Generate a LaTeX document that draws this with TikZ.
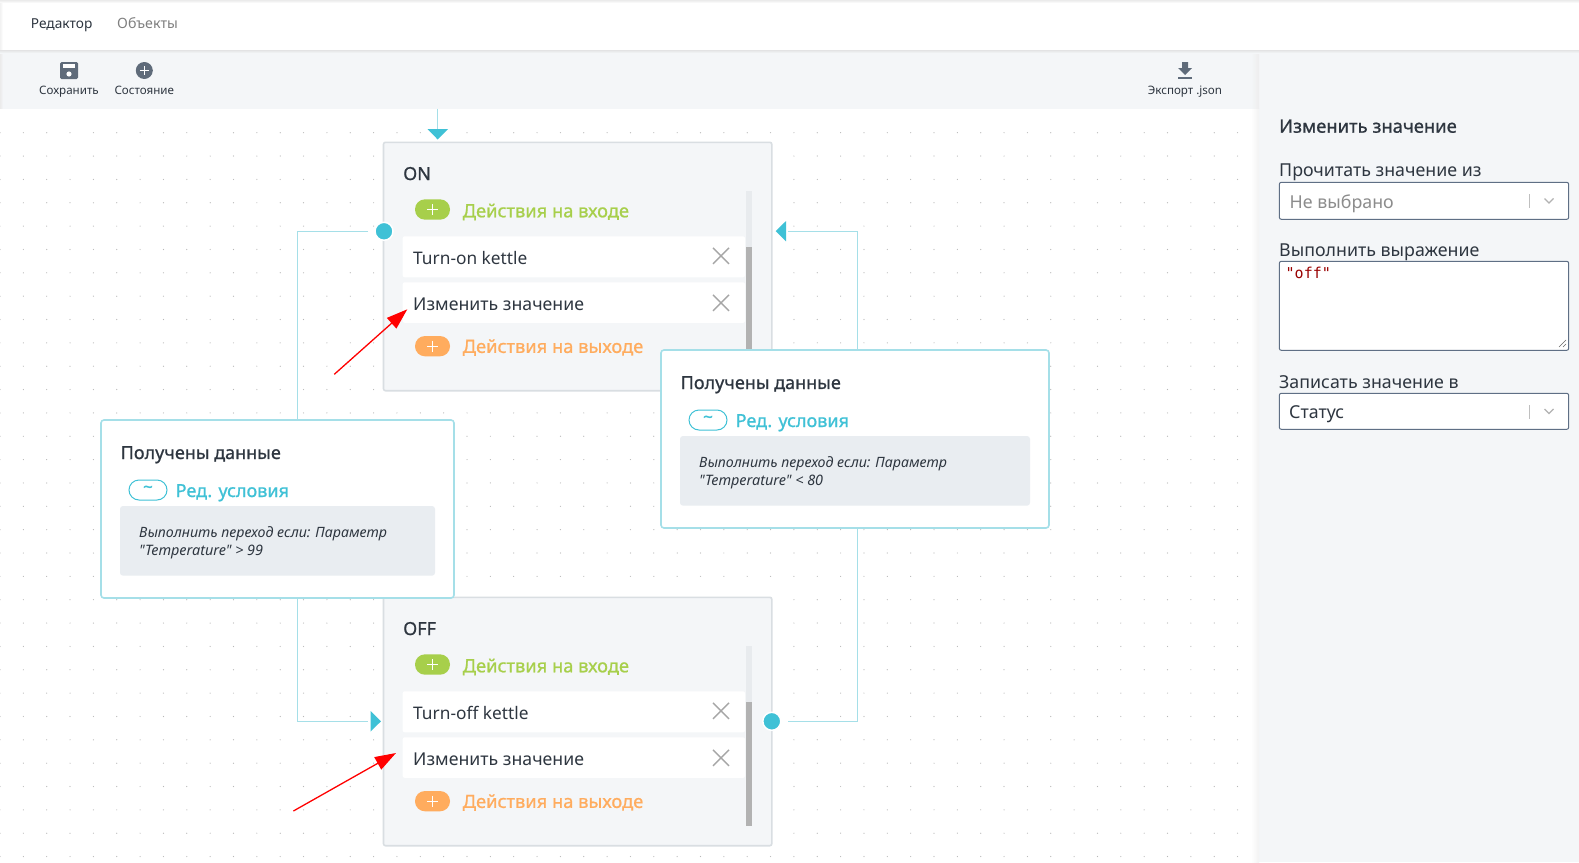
\documentclass[tikz,border=0pt]{standalone}
\usepackage{fontspec}
\setmainfont{Noto Sans}[Ligatures=TeXOff]
\setmonofont{DejaVu Sans Mono}
\newfontfamily\semifont{Noto Sans}[FakeBold=0.9,Ligatures=TeXOff]
\usetikzlibrary{arrows.meta}
\definecolor{panelbg}{HTML}{F4F6F8}
\definecolor{wire}{HTML}{A5DFE8}
\definecolor{accent}{HTML}{3FC1D6}
\definecolor{inktext}{HTML}{2E3640}
\definecolor{boxedge}{HTML}{D9DEE2}
\definecolor{greenact}{HTML}{A7CF4B}
\definecolor{orangeact}{HTML}{FFAC5E}
\definecolor{iconcol}{HTML}{5F6B7A}
\definecolor{condbg}{HTML}{E9EDF1}
\definecolor{fieldedge}{HTML}{5F6F85}
\tikzset{
  lbl/.style={inner sep=0pt,text=inktext,anchor=base west},
  btnlbl/.style={inner sep=0pt,text=inktext,anchor=base,font=\fontsize{11.6}{11.6}\selectfont},
  itembox/.style={fill=white,rounded corners=2pt},
  statebox/.style={fill=panelbg,draw=boxedge,line width=1.6pt,rounded corners=2pt},
  transbox/.style={fill=white,draw=wire,line width=1.6pt,rounded corners=3pt},
  wireline/.style={draw=wire,line width=1pt},
  fieldbox/.style={fill=white,draw=fieldedge,line width=1pt,rounded corners=2pt},
  redarrow/.style={draw=red,line width=1.3pt,-{Triangle[length=21pt,width=14pt]}},
  crossline/.style={draw=black!35,line width=1.4pt},
  plusline/.style={draw=white,line width=1.4pt}
}
% one state card, #1 = top edge, #2 = name, #3 = first action
\newcommand{\statecard}[3]{
  \draw[statebox] (383.5,#1) rectangle (771.8,#1+248.4);
  \node[lbl,font=\semifont\fontsize{18}{18}\selectfont] at (403,#1+37.7) {#2};
  \fill[boxedge!60] (745.7,#1+49) rectangle (752.3,#1+229);
  \fill[black!30] (745.7,#1+104.5) rectangle (752.3,#1+229);
  \fill[greenact,rounded corners=10pt] (415,#1+57) rectangle (450,#1+77.4);
  \draw[plusline] (427,#1+67.2) -- (438,#1+67.2) (432.5,#1+61.7) -- (432.5,#1+72.7);
  \node[lbl,text=greenact,font=\semifont\fontsize{18.3}{18.3}\selectfont] at (462.5,#1+75) {Действия на входе};
  \fill[itembox] (402.7,#1+94) rectangle (745,#1+135);
  \node[lbl,font=\fontsize{17.3}{17.3}\selectfont] at (413,#1+122) {#3};
  \fill[itembox] (402.7,#1+140) rectangle (745,#1+180.6);
  \node[lbl,font=\fontsize{17.7}{17.7}\selectfont] at (413,#1+167.7) {Изменить значение};
  \draw[crossline] (713,#1+105.5) -- (729,#1+121.5) (729,#1+105.5) -- (713,#1+121.5);
  \draw[crossline] (713,#1+152.5) -- (729,#1+168.5) (729,#1+152.5) -- (713,#1+168.5);
  \fill[orangeact,rounded corners=10pt] (415,#1+193.7) rectangle (450,#1+214);
  \draw[plusline] (427,#1+203.9) -- (438,#1+203.9) (432.5,#1+198.4) -- (432.5,#1+209.4);
  \node[lbl,text=orangeact,font=\semifont\fontsize{18.3}{18.3}\selectfont] at (462.5,#1+210.6) {Действия на выходе};
}
% one transition card, #1 #2 = left top, #3 = right edge, #4 = condition
\newcommand{\transcard}[4]{
  \draw[transbox] (#1,#2) rectangle (#3,#2+178);
  \node[lbl,font=\semifont\fontsize{18}{18}\selectfont] at (#1+19.5,#2+39) {Получены данные};
  \draw[draw=accent,fill=white,line width=1pt,rounded corners=10pt] (#1+28,#2+60) rectangle (#1+66,#2+80);
  \node[inner sep=0pt,text=accent,font=\semifont\fontsize{17}{17}\selectfont] at (#1+47,#2+69.3) {\string~};
  \node[lbl,text=accent,font=\semifont\fontsize{18}{18}\selectfont] at (#1+74.5,#2+77) {Ред. условия};
  \fill[condbg,rounded corners=3pt] (#1+19,#2+86) rectangle (#3-19,#2+155.7);
  \node[lbl,font=\itshape\fontsize{14.2}{14.2}\selectfont] at (#1+38,#2+117.4) {Выполнить переход если: Параметр};
  \node[lbl,font=\itshape\fontsize{14.4}{14.4}\selectfont] at (#1+38,#2+135) {"Temperature" #4};
}
\begin{document}
\begin{tikzpicture}[x=1pt,y=-1pt]
  \useasboundingbox (0,0) rectangle (1579,862);
  \fill[white] (0,0) rectangle (1579,862);
  % dotted grid
  \foreach \px in {0,...,53}
    \foreach \py in {0,...,31}
      \fill[black!28] (\px*23.35,132.7+\py*23.35) circle (0.6pt);
  % toolbars and side panel
  \fill[panelbg] (0,49.5) rectangle (1259,108.7);
  \fill[panelbg] (1259,49.5) rectangle (1579,862);
  \shade[left color=white,right color=black!5] (1251,108.7) rectangle (1259,862);
  \shade[left color=panelbg,right color=black!7] (1251,49.5) rectangle (1259,108.7);
  \shade[left color=black!8,right color=panelbg] (0,49.5) rectangle (3,108.7);
  \shade[top color=black!12,bottom color=panelbg] (0,49.5) rectangle (1579,53);
  \fill[white] (0,3) rectangle (1579,49.5);
  \shade[top color=black!8,bottom color=white] (0,0) rectangle (1579,3);
  \shade[left color=black!5,right color=white] (0,3) rectangle (3,49.5);
  \node[lbl,font=\fontsize{13.7}{13.7}\selectfont] (tabedit) at (30.7,28.7) {Редактор};
  \node[lbl,text=black!50,font=\fontsize{14.2}{14.2}\selectfont] (tabobj) at (117,28.7) {Объекты};
  % toolbar icons
  \fill[iconcol,rounded corners=1.5pt] (60,62) rectangle (78,79);
  \fill[white] (63,64) rectangle (75,67.5);
  \fill[white] (69,74) circle (2.6pt);
  \fill[iconcol] (144.3,70.5) circle (8.5pt);
  \draw[white,line width=1.2pt] (140,70.5) -- (148.6,70.5) (144.3,66.2) -- (144.3,74.8);
  \node[btnlbl] (btnsave) at (69,94) {Сохранить};
  \node[btnlbl] (btnstate) at (144.3,94) {Состояние};
  \fill[iconcol] (1182,62) -- (1188,62) -- (1188,68) -- (1192,68) -- (1185,75) -- (1178,68) -- (1182,68) -- cycle;
  \fill[iconcol] (1178,77) rectangle (1192,78.5);
  \node[btnlbl] (btnexport) at (1185,94) {Экспорт .json};
  % connectors
  \coordinate (entrytop) at (437.3,108.7);
  \coordinate (entryend) at (437.3,129);
  \coordinate (onout) at (368,231.3);
  \coordinate (offin) at (368,721.3);
  \coordinate (offout) at (788,721.3);
  \coordinate (onin) at (788,231.3);
  \draw[wireline] (entrytop) -- (entryend);
  \draw[wireline] (onout) -| (297.7,420);
  \draw[wireline] (297.7,598) |- (offin);
  \draw[wireline] (offout) -| (857.5,528);
  \draw[wireline] (857.5,350) |- (onin);
  % states
  \statecard{142.3}{ON}{Turn-on kettle}
  \statecard{597.3}{OFF}{Turn-off kettle}
  % arrow heads and ports
  \fill[accent] (427.5,129) -- (448,129) -- (437.7,139.5) -- cycle;
  \fill[accent] (786,221) -- (786,241.3) -- (775.7,231.2) -- cycle;
  \fill[accent] (370.5,711) -- (370.5,731.5) -- (381,721.3) -- cycle;
  \fill[accent,draw=white,line width=1.5pt] (384,231.3) circle (9pt);
  \fill[accent,draw=white,line width=1.5pt] (771.8,721.3) circle (9pt);
  % transitions
  \transcard{661}{350}{1049}{< 80}
  \transcard{101}{420}{454}{> 99}
  % red marks
  \coordinate (redonfrom) at (334.3,374.3);
  \coordinate (redonto) at (407.3,309.3);
  \coordinate (redofffrom) at (293.4,811);
  \coordinate (redoffto) at (396,753);
  \draw[redarrow] (redonfrom) -- (redonto);
  \draw[redarrow] (redofffrom) -- (redoffto);
  % side panel
  \node[lbl,font=\semifont\fontsize{18.4}{18.4}\selectfont] (pnltitle) at (1279,132.7) {Изменить значение};
  \node[lbl,font=\fontsize{17.8}{17.8}\selectfont] (lblread) at (1279,176.7) {Прочитать значение из};
  \draw[fieldbox] (1279.3,182.3) rectangle (1568.7,219.3);
  \node[lbl,text=black!45,font=\fontsize{17.8}{17.8}\selectfont] (valread) at (1289.5,208) {Не выбрано};
  \draw[black!25] (1529.5,194) -- (1529.5,208);
  \draw[black!30,line width=1.2pt] (1544.5,198.5) -- (1549,203) -- (1553.5,198.5);
  \node[lbl,font=\fontsize{17.8}{17.8}\selectfont] (lblexpr) at (1279,256) {Выполнить выражение};
  \draw[fieldbox] (1279.3,261.3) rectangle (1568.7,350.3);
  \node[lbl,text=red!60!black,font=\ttfamily\fontsize{15}{15}\selectfont] (valexpr) at (1285.5,278) {"off"};
  \draw[black!60,line width=0.6pt] (1559,347) -- (1566,340) (1563,347) -- (1566,344);
  \node[lbl,font=\fontsize{17.8}{17.8}\selectfont] (lblwrite) at (1279,388.3) {Записать значение в};
  \draw[fieldbox] (1279.3,393.3) rectangle (1568.7,429.3);
  \node[lbl,font=\fontsize{17.8}{17.8}\selectfont] (valwrite) at (1289,418.3) {Статус};
  \draw[black!25] (1529.5,405) -- (1529.5,419);
  \draw[black!30,line width=1.2pt] (1544.5,409) -- (1549,413.5) -- (1553.5,409);
\end{tikzpicture}
\end{document}
